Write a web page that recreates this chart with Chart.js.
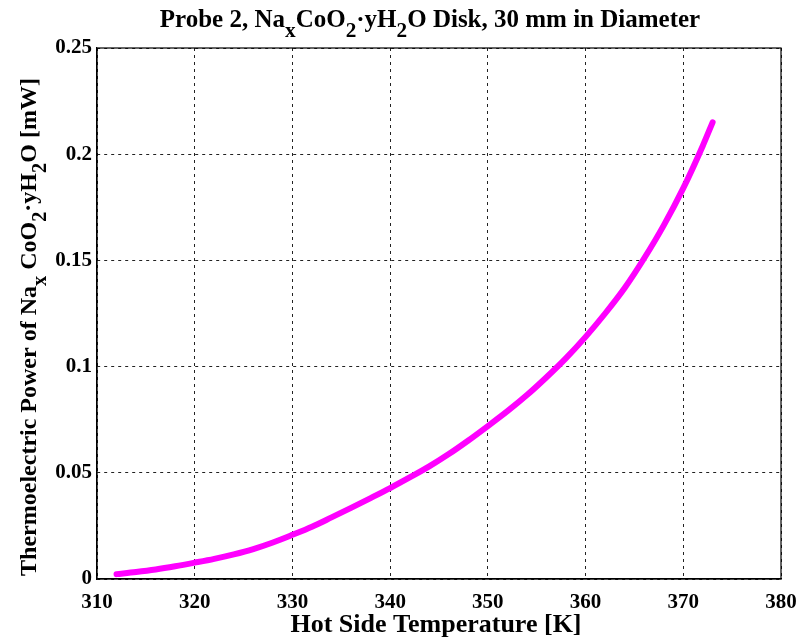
<!DOCTYPE html>
<html>
<head>
<meta charset="utf-8">
<script src="https://cdn.jsdelivr.net/npm/chart.js@4"></script>
<style>
html, body { margin: 0; padding: 0; background: #fff; }
</style>
</head>
<body>
<canvas id="chart" width="801" height="637"></canvas>
<script>
// hot side temperature [K] and thermoelectric power [mW]
const temps = [312, 314, 316, 318, 320, 322, 324, 326, 328, 330, 332, 334, 336, 338, 340,
               342, 344, 346, 348, 350, 352, 354, 356, 358, 360, 362, 364, 366, 368, 370, 372, 373];
const power = [0.0023, 0.0033, 0.0045, 0.0060, 0.0077, 0.0095, 0.0116, 0.0141, 0.0172, 0.0208,
               0.0246, 0.0290, 0.0335, 0.0381, 0.0428, 0.0478, 0.0530, 0.0588, 0.0652, 0.0720,
               0.0790, 0.0866, 0.0950, 0.1040, 0.1140, 0.1250, 0.1370, 0.1510, 0.1665, 0.1840,
               0.2040, 0.2150];
const xTicks = [310, 320, 330, 340, 350, 360, 370, 380];
const yTicks = [0, 0.05, 0.1, 0.15, 0.2, 0.25];

const titleParts = [['Probe 2, Na'], ['x', 1], ['CoO'], ['2', 1], ['\u00b7yH'], ['2', 1], ['O Disk, 30 mm in Diameter']];
const yTitleParts = [['Thermoelectric Power of Na'], ['x', 1], [' CoO'], ['2', 1], ['\u00b7yH'], ['2', 1], ['O [mW]']];
const xTitle = 'Hot Side Temperature [K]';

const serif = "'Liberation Serif', 'Times New Roman', serif";

function drawRich(ctx, parts, size) {
    let total = 0;
    parts.forEach(p => {
        ctx.font = 'bold ' + (p[1] ? size * 0.85 : size) + 'px ' + serif;
        total += ctx.measureText(p[0]).width;
    });
    let x = -total / 2;
    parts.forEach(p => {
        ctx.font = 'bold ' + (p[1] ? size * 0.85 : size) + 'px ' + serif;
        ctx.fillText(p[0], x, p[1] ? size * 0.4 : 0);
        x += ctx.measureText(p[0]).width;
    });
}

const labelsPlugin = {
    id: 'labels',
    afterDraw(chart) {
        const ctx = chart.ctx;
        const a = chart.chartArea;
        ctx.save();
        ctx.strokeStyle = '#000';
        ctx.lineWidth = 1.2;
        ctx.strokeRect(a.left, a.top, a.right - a.left, a.bottom - a.top);
        ctx.fillStyle = '#000';
        ctx.textBaseline = 'alphabetic';
        ctx.textAlign = 'left';

        ctx.save();
        ctx.translate(430, 27);
        drawRich(ctx, titleParts, 25);
        ctx.restore();

        ctx.save();
        ctx.translate(36, 327);
        ctx.rotate(-Math.PI / 2);
        drawRich(ctx, yTitleParts, 24);
        ctx.restore();

        ctx.save();
        ctx.translate(436, 632);
        drawRich(ctx, [[xTitle]], 26);
        ctx.restore();
        ctx.restore();
    }
};

const ctx = document.getElementById('chart').getContext('2d');
const chart = new Chart(ctx, {
    type: 'line',
    data: {
        datasets: [{
            data: temps.map((t, i) => ({ x: t, y: power[i] })),
            borderColor: '#ff00ff',
            borderWidth: 6,
            borderCapStyle: 'round',
            pointRadius: 0,
            cubicInterpolationMode: 'monotone',
            fill: false
        }]
    },
    options: {
        responsive: false,
        animation: false,
        layout: { padding: { top: 48, right: 20, left: 0, bottom: 0 } },
        plugins: {
            legend: { display: false },
            tooltip: { enabled: false }
        },
        scales: {
            x: {
                type: 'linear',
                min: 310,
                max: 380,
                afterFit(scale) {
                    scale.height = 58;
                    scale.paddingLeft = 0;
                    scale.paddingRight = 0;
                },
                afterBuildTicks(scale) { scale.ticks = xTicks.map(v => ({ value: v })); },
                grid: { color: '#222', lineWidth: 1, drawTicks: false },
                border: { color: '#000', width: 1.2, dash: [3, 4] },
                ticks: {
                    color: '#000',
                    padding: 11,
                    font: { family: serif, size: 21, weight: 'bold' }
                }
            },
            y: {
                min: 0,
                max: 0.25,
                afterFit(scale) { scale.width = 97; },
                afterBuildTicks(scale) { scale.ticks = yTicks.map(v => ({ value: v })); },
                grid: { color: '#222', lineWidth: 1, drawTicks: false },
                border: { color: '#000', width: 1.2, dash: [3, 4] },
                ticks: {
                    color: '#000',
                    padding: 5,
                    callback: v => String(v),
                    font: { family: serif, size: 21, weight: 'bold' }
                }
            }
        }
    },
    plugins: [labelsPlugin]
});
</script>
</body>
</html>
